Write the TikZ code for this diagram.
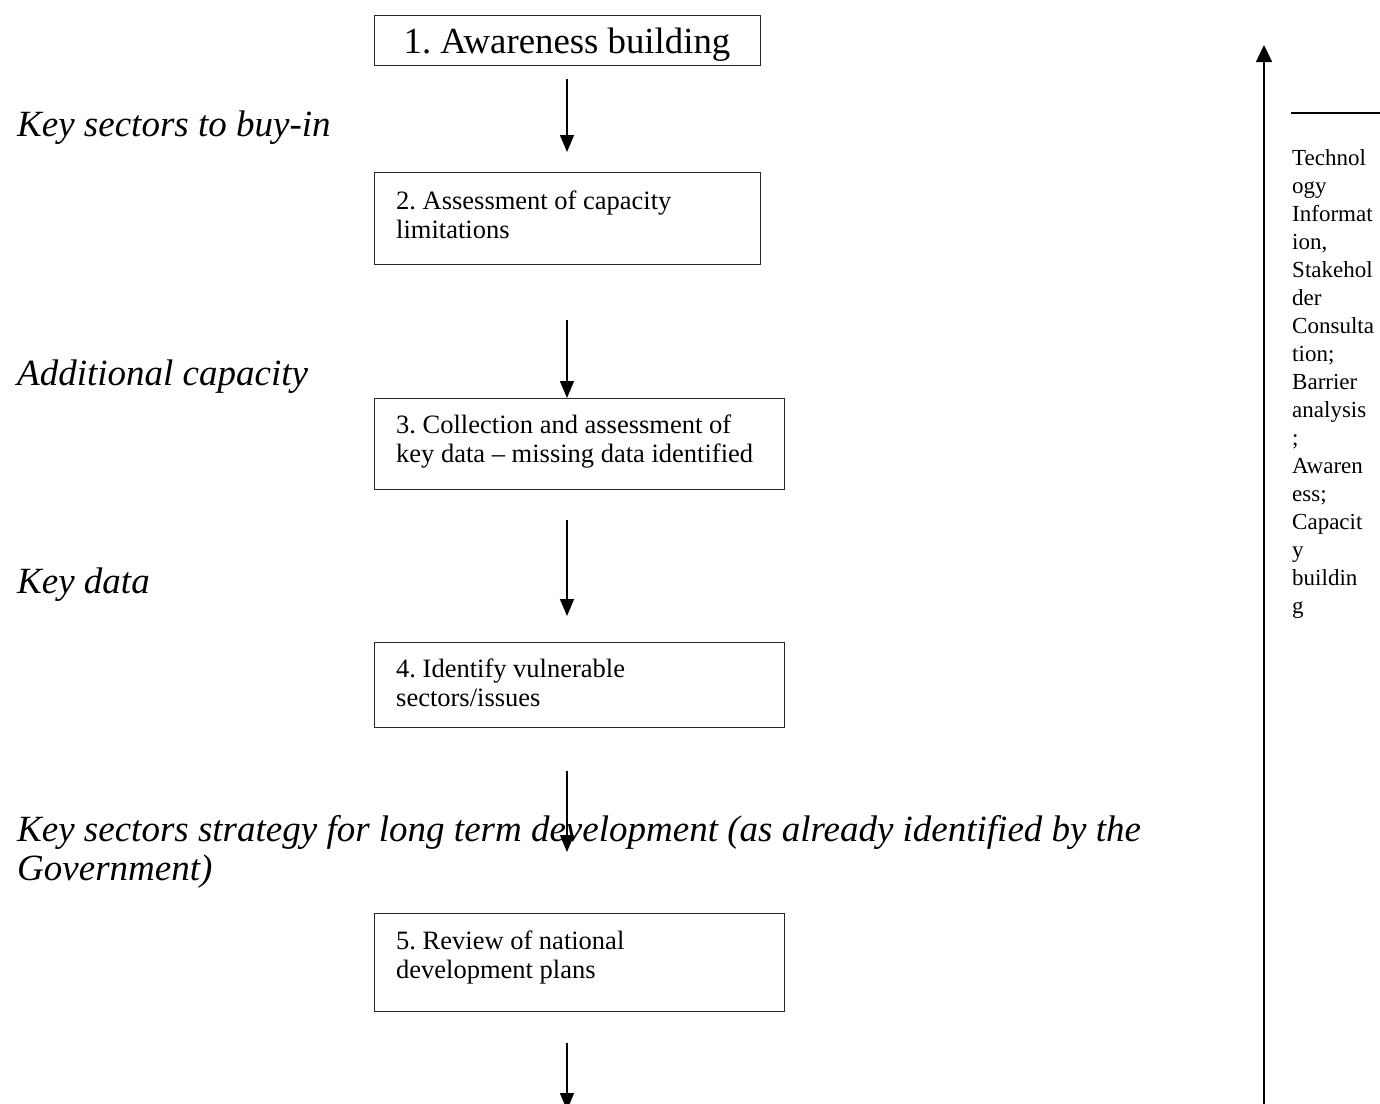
\documentclass[tikz,border=0pt]{standalone}
\usepackage{fontspec}
\setmainfont{Liberation Serif}
\usetikzlibrary{arrows.meta}
\begin{document}
\frenchspacing
\begin{tikzpicture}[x=1pt,y=-1pt,
  box/.style={draw=black!85, line width=1pt, anchor=north west, inner sep=0pt, rectangle},
  flow/.style={-{Triangle[width=14pt,length=17pt]}, line width=1.6pt},
  lab/.style={font=\fontsize{37}{39}\selectfont\itshape, anchor=base west, inner sep=0pt, align=left},
  btxt/.style={font=\fontsize{26.5}{29}\selectfont, anchor=base west, inner sep=0pt, align=left},
  side/.style={font=\fontsize{23}{28}\selectfont, anchor=base west, inner sep=0pt, align=left}]
\clip (0,0) rectangle (1380,1103);
\fill[white] (0,0) rectangle (1380,1103);

% boxes (text nodes are placed by the baseline of their last line)
\node[box, minimum width=386pt, minimum height=50pt] (b1) at (374,15) {};
\node[font=\fontsize{36.8}{40}\selectfont, anchor=base, inner sep=0pt] (t1) at (567,53) {1. Awareness building};

\node[box, minimum width=386pt, minimum height=92pt] (b2) at (374,172) {};
\node[btxt] (t2) at (396,238) {2. Assessment of capacity\\limitations};

\node[box, minimum width=410pt, minimum height=91pt] (b3) at (374,398) {};
\node[btxt] (t3) at (396,462) {3. Collection and assessment of\\key data -- missing data identified};

\node[box, minimum width=410pt, minimum height=85pt] (b4) at (374,642) {};
\node[btxt] (t4) at (396,706) {4. Identify vulnerable\\sectors/issues};

\node[box, minimum width=410pt, minimum height=98pt] (b5) at (374,913) {};
\node[btxt] (t5) at (396,978) {5. Review of national\\development plans};

% left labels
\node[lab] (l1) at (17,136) {Key sectors to buy-in};
\node[lab] (l2) at (17,385) {Additional capacity};
\node[lab] (l3) at (17,593) {Key data};
\node[lab] (l4) at (17,880) {Key sectors strategy for long term development (as already identified by the\\Government)};

% arrow end points
\coordinate (a1s) at (567,79);   \coordinate (a1e) at (567,152);
\coordinate (a2s) at (567,320);  \coordinate (a2e) at (567,398);
\coordinate (a3s) at (567,520);  \coordinate (a3e) at (567,616);
\coordinate (a4s) at (567,771);  \coordinate (a4e) at (567,852);
\coordinate (a5s) at (567,1043); \coordinate (a5e) at (567,1110);
\draw[flow] (a1s) -- (a1e);
\draw[flow] (a2s) -- (a2e);
\draw[flow] (a3s) -- (a3e);
\draw[flow] (a4s) -- (a4e);
\draw[flow] (a5s) -- (a5e);

% right side
\coordinate (rs) at (1264,1110);
\coordinate (re) at (1264,45);
\draw[-{Triangle[width=16pt,length=17pt]}, line width=1.6pt] (rs) -- (re);
\coordinate (hs) at (1291,113);
\coordinate (he) at (1380,113);
\draw[line width=1.6pt] (hs) -- (he);
\node[side] (rt) at (1292,613) {Technol\\ogy\\Informat\\ion,\\Stakehol\\der\\Consulta\\tion;\\Barrier\\analysis\\;\\Awaren\\ess;\\Capacit\\y\\buildin\\g};
\end{tikzpicture}
\end{document}
